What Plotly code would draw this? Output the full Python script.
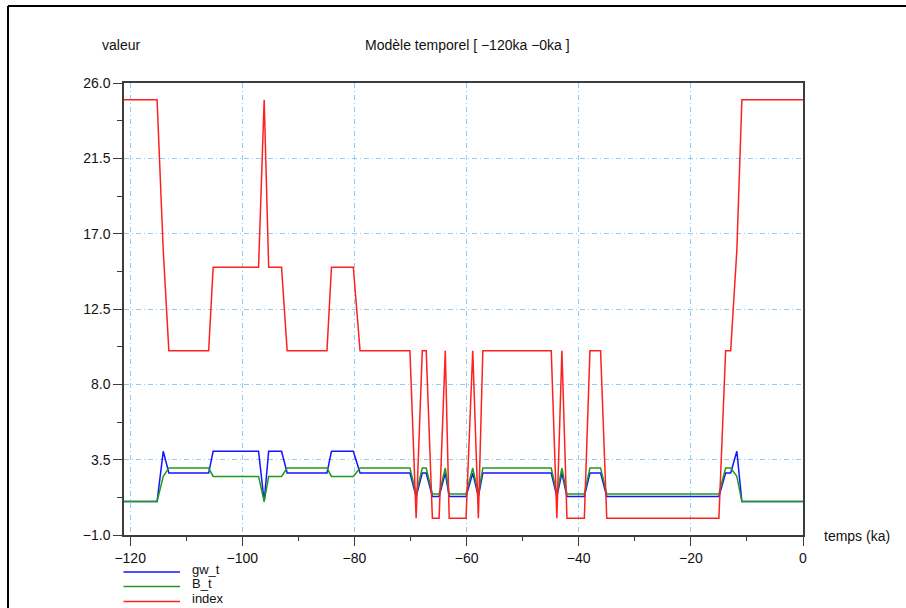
import plotly.graph_objects as go

# Time breakpoints (ka) and series values
temps = [-121.1, -115.2, -114.1, -113.1, -106.0, -105.2, -97.1, -96.1, -95.3, -93.0,
         -92.0, -84.9, -84.1, -80.2, -79.0, -70.1, -69.0, -67.9, -67.2, -66.1,
         -64.9, -63.8, -63.1, -60.1, -58.9, -57.9, -57.1, -44.9, -43.9, -43.0,
         -42.1, -39.0, -38.0, -36.1, -35.0, -15.0, -13.8, -12.9, -11.8, -10.9, 0.0]

index_vals = [25, 25, 16, 10, 10, 15, 15, 25, 15, 15,
              10, 10, 15, 15, 10, 10, 0, 10, 10, 0,
              0, 10, 0, 0, 10, 0, 10, 10, 0, 10,
              0, 0, 10, 10, 0, 0, 10, 10, 16, 25, 25]

gw_t = [1.0, 1.0, 4.0, 2.7, 2.7, 4.0, 4.0, 1.0, 4.0, 4.0,
        2.7, 2.7, 4.0, 4.0, 2.7, 2.7, 1.3, 2.7, 2.7, 1.3,
        1.3, 2.7, 1.3, 1.3, 2.7, 1.3, 2.7, 2.7, 1.3, 2.7,
        1.3, 1.3, 2.7, 2.7, 1.3, 1.3, 2.7, 2.7, 4.0, 1.0, 1.0]

B_t = [1.0, 1.0, 2.5, 3.0, 3.0, 2.5, 2.5, 1.0, 2.5, 2.5,
       3.0, 3.0, 2.5, 2.5, 3.0, 3.0, 1.45, 3.0, 3.0, 1.45,
       1.45, 3.0, 1.45, 1.45, 3.0, 1.45, 3.0, 3.0, 1.45, 3.0,
       1.45, 1.45, 3.0, 3.0, 1.45, 1.45, 3.0, 3.0, 2.5, 1.0, 1.0]

series_names = ["gw_t", "B_t", "index"]
series_colors = ["#1414ff", "#1f9a1f", "#ff2020"]
series_values = [gw_t, B_t, index_vals]

x_ticks = [-120, -100, -80, -60, -40, -20, 0]
y_ticks = [-1.0, 3.5, 8.0, 12.5, 17.0, 21.5, 26.0]

W, H = 906, 608
L, R, T, B = 124, 103, 83, 73
PW, PH = W - L - R, H - T - B

def px(xpix):
    return (xpix - L) / PW

def py(ypix):
    return (H - B - ypix) / PH

FONT = "Liberation Sans, Arial, sans-serif"
AXC = "#3c3c3c"
GRID = "#8ccdf7"

fig = go.Figure()
for name, col, vals in zip(series_names, series_colors, series_values):
    fig.add_trace(go.Scatter(x=temps, y=vals, mode="lines", name=name,
                             line=dict(color=col, width=1.5), showlegend=False))

fig.update_layout(
    width=W, height=H,
    margin=dict(l=L, r=R, t=T, b=B, pad=0),
    paper_bgcolor="white", plot_bgcolor="white",
    font=dict(family=FONT, size=14, color="#111111"),
    showlegend=False,
)

fig.update_xaxes(
    range=[-121.1, 0], tickvals=x_ticks, ticktext=[f"{v:d}".replace("-", "\u2212") for v in x_ticks],
    showline=True, linecolor=AXC, linewidth=1.5, mirror=True,
    ticks="outside", ticklen=9, tickwidth=1.2, tickcolor=AXC,
    showgrid=True, gridcolor=GRID, gridwidth=1, griddash="5px,3px,1px,3px",
    zeroline=False,
    minor=dict(tickvals=[-110, -90, -70, -50, -30, -10], ticks="outside", ticklen=4,
               tickcolor=AXC, tickwidth=1.2, showgrid=False),
)
fig.update_yaxes(
    range=[-1, 26], tickvals=y_ticks, ticktext=[f"{v:.1f}".replace("-", "\u2212") for v in y_ticks],
    showline=True, linecolor=AXC, linewidth=1.5, mirror=True,
    ticks="outside", ticklen=9, tickwidth=1.2, tickcolor=AXC,
    showgrid=True, gridcolor=GRID, gridwidth=1, griddash="5px,3px,1px,3px",
    zeroline=False,
    minor=dict(tickvals=[1.25, 5.75, 10.25, 14.75, 19.25, 23.75], ticks="outside", ticklen=5,
               tickcolor=AXC, tickwidth=1.2, showgrid=False),
)

annotations = [
    dict(text="valeur", x=px(100), y=py(45), xanchor="left", yanchor="middle", size=14),
    dict(text="Modèle temporel [ \u2212120ka \u22120ka ]", x=px(467), y=py(45),
         xanchor="center", yanchor="middle", size=14),
    dict(text="temps (ka)", x=px(822), y=py(536), xanchor="left", yanchor="middle", size=14),
]
shapes = [
    # outer frame (top and left)
    dict(type="line", xref="paper", yref="paper", x0=px(8), x1=px(906), y0=py(6), y1=py(6),
         line=dict(color="black", width=2)),
    dict(type="line", xref="paper", yref="paper", x0=px(8), x1=px(8), y0=py(6), y1=py(608),
         line=dict(color="black", width=2)),
]
leg_y = [572, 586.5, 601.5]
leg_text_y = [569, 583.5, 598]
for name, col, ly, ty in zip(series_names, series_colors, leg_y, leg_text_y):
    shapes.append(dict(type="line", xref="paper", yref="paper", x0=px(123.5), x1=px(180),
                       y0=py(ly), y1=py(ly), line=dict(color=col, width=1.5)))
    annotations.append(dict(text=name, x=px(190), y=py(ty), xanchor="left", yanchor="middle", size=13))

for a in annotations:
    sz = a.pop("size")
    a.update(xref="paper", yref="paper", showarrow=False,
             font=dict(family=FONT, size=sz, color="#111111"))

fig.update_layout(annotations=annotations, shapes=shapes)
fig.write_html("out.html", config={"displayModeBar": False},
               post_script="document.body.style.margin='0';document.body.style.overflow='hidden';")
